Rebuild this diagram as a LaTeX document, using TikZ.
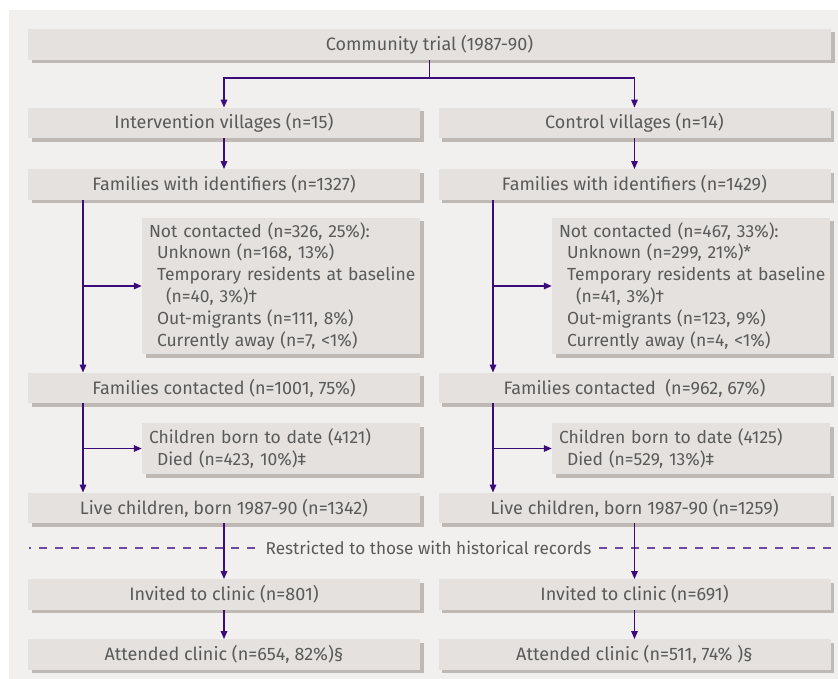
\documentclass[tikz,border=0pt]{standalone}
\usepackage{fontspec}
\setmainfont{Fira Sans}
\usetikzlibrary{shadows,arrows.meta,calc}
\definecolor{panel}{HTML}{F1F0EF}
\definecolor{boxc}{HTML}{E4E1DE}
\definecolor{shad}{HTML}{BEB9B5}
\definecolor{arrc}{HTML}{3B0B7A}
\definecolor{dashc}{HTML}{6D4C9C}
\definecolor{txt}{HTML}{5A5A5A}
\begin{document}
\begin{tikzpicture}[x=1pt,y=-1pt,
  box/.style={fill=boxc, draw=none, inner sep=0pt, text=txt,
    font=\fontsize{18}{21.5}\selectfont,
    drop shadow={shadow xshift=3.5pt, shadow yshift=-3.5pt, fill=shad, opacity=1}},
  wide/.style={box, minimum width=392, minimum height=30.5},
  side/.style={box, minimum width=278, text width=264, align=left,
    font=\fontsize{17.5}{21.8}\selectfont},
  arr/.style={draw=arrc, line width=1.5pt, -{Triangle[length=8pt,width=6.5pt]}},
  dashline/.style={draw=dashc, line width=1.3pt, dash pattern=on 8pt off 8pt, dash phase=6pt}]
\useasboundingbox (0,0) rectangle (838,679);
\fill[panel] (9,10) rectangle (838,679);

\node[box, minimum width=803, minimum height=31] (top) at (429.5,44.5) {Community trial (1987-90)};

\node[wide] (intL) at (224,123) {Intervention villages (n=15)};
\node[wide] (intR) at (634.5,123) {Control villages (n=14)};

\node[wide] (famL) at (224,184.5) {Families with identifiers (n=1327)};
\node[wide] (famR) at (634.5,184.5) {Families with identifiers (n=1429)};

\node[side, minimum height=136] (ncL) at (281,286) {Not contacted (n=326, 25\%):\\
\hspace*{8pt}Unknown (n=168, 13\%)\\
\hspace*{8pt}\mbox{Temporary residents at baseline}\\
\hspace*{17pt}(n=40, 3\%)†\\
\hspace*{8pt}Out-migrants (n=111, 8\%)\\
\hspace*{8pt}Currently away (n=7, <1\%)};
\node[side, minimum height=136] (ncR) at (691,286) {Not contacted (n=467, 33\%):\\
\hspace*{8pt}Unknown (n=299, 21\%)*\\
\hspace*{8pt}\mbox{Temporary residents at baseline}\\
\hspace*{17pt}(n=41, 3\%)†\\
\hspace*{8pt}Out-migrants (n=123, 9\%)\\
\hspace*{8pt}Currently away (n=4, <1\%)};

\node[wide] (fcL) at (224,388) {Families contacted (n=1001, 75\%)};
\node[wide] (fcR) at (634.5,388) {Families contacted\ \ (n=962, 67\%)};

\node[side, minimum height=51] (cbL) at (281,448.5) {Children born to date (4121)\\
\hspace*{8pt}Died (n=423, 10\%)‡};
\node[side, minimum height=51] (cbR) at (691,448.5) {Children born to date (4125)\\
\hspace*{8pt}Died (n=529, 13\%)‡};

\node[wide] (lcL) at (224,508) {Live children, born 1987-90 (n=1342)};
\node[wide] (lcR) at (634.5,508) {Live children, born 1987-90 (n=1259)};

\node[wide] (invL) at (224,594.5) {Invited to clinic (n=801)};
\node[wide] (invR) at (634.5,594.5) {Invited to clinic (n=691)};

\node[wide] (attL) at (224,654.5) {Attended clinic (n=654, 82\%)§};
\node[wide] (attR) at (634.5,654.5) {Attended clinic (n=511, 74\% )§};

% restriction line
\coordinate (dl) at (29,548);
\coordinate (dr) at (831,548);
\draw[dashline] (dl) -- (dr);
\node[fill=panel, text=txt, inner xsep=7pt, inner ysep=2pt, font=\fontsize{17.2}{20}\selectfont] (restr) at (428.5,548) {Restricted to those with historical records};

% connectors
\draw[arr] (top.south) -- ++(0,18) -| (intL.north);
\draw[arr] (top.south) ++(0,18) -| (intR.north);
\draw[arr] (intL.south) -- (famL.north);
\draw[arr] (intR.south) -- (famR.north);

\coordinate (bL) at (83,0);
\coordinate (bR) at (493,0);
\draw[arr] (famL.south -| bL) -- (fcL.north -| bL);
\draw[arr] (ncL.west -| bL) -- (ncL.west);
\draw[arr] (famR.south -| bR) -- (fcR.north -| bR);
\draw[arr] (ncR.west -| bR) -- (ncR.west);

\draw[arr] (fcL.south -| bL) -- (lcL.north -| bL);
\draw[arr] (cbL.west -| bL) -- (cbL.west);
\draw[arr] (fcR.south -| bR) -- (lcR.north -| bR);
\draw[arr] (cbR.west -| bR) -- (cbR.west);

\draw[arr] (lcL.south) -- (invL.north);
\draw[arr] (lcR.south) -- (invR.north);
\draw[arr] (invL.south) -- (attL.north);
\draw[arr] (invR.south) -- (attR.north);
\end{tikzpicture}
\end{document}
